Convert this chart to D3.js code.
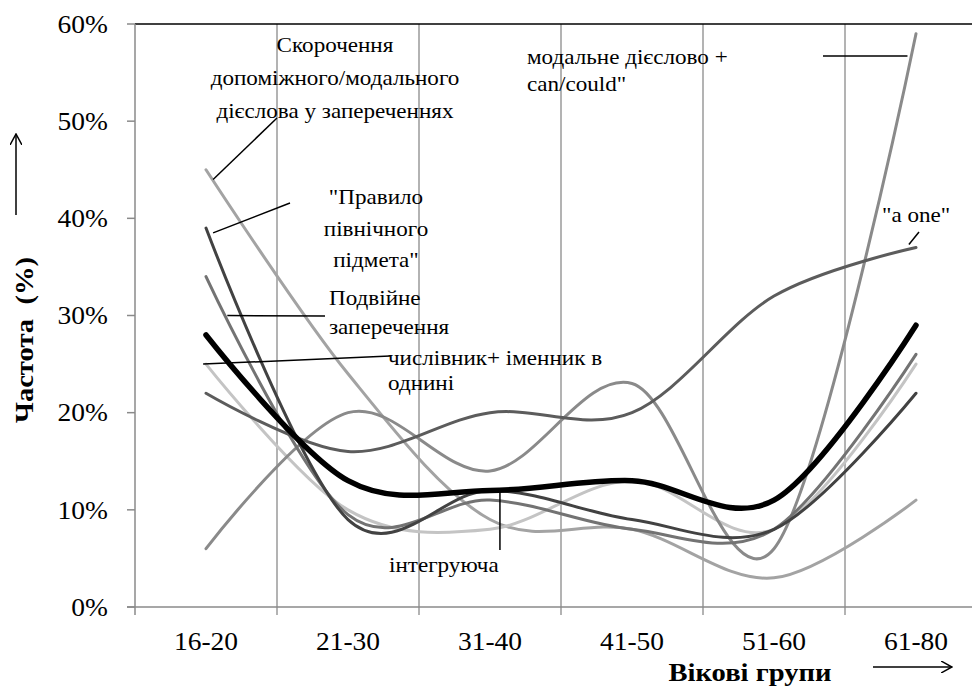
<!DOCTYPE html>
<html>
<head>
<meta charset="utf-8">
<title>Частота за віковими групами</title>
<script src="https://cdn.jsdelivr.net/npm/d3@7"></script>
<style>
  body { margin: 0; background: #fff; }
  svg text { font-family: "Liberation Serif", "Times New Roman", serif; fill: #000; }
  .tick-label { font-size: 25px; }
  .note { font-size: 21px; }
  .axis-title { font-size: 26px; font-weight: bold; white-space: pre; }
  .series { fill: none; stroke-linecap: round; }
</style>
</head>
<body>
<svg id="chart"></svg>
<script>
// age groups on the x axis
var categories = ["16-20", "21-30", "31-40", "41-50", "51-60", "61-80"];
var yTicks = [0, 10, 20, 30, 40, 50, 60];

// frequencies, % per age group
var skorochennia = [45, 24, 9, 8, 3, 11];
var pravylo = [39, 9, 12, 9, 8, 22];
var podviyne = [34, 9.5, 11, 8, 8, 26];
var chyslivnyk = [25, 10, 8, 13, 8, 25];
var aOne = [22, 16, 20, 20, 32, 37];
var modalne = [6, 20, 14, 23, 6, 59];
var intehruiucha = [28, 13, 12, 13, 11, 29];

var series = [
  { values: skorochennia, color: "#a3a3a3", width: 3 },
  { values: chyslivnyk, color: "#c4c4c4", width: 3 },
  { values: modalne, color: "#8a8a8a", width: 3 },
  { values: podviyne, color: "#737373", width: 3 },
  { values: aOne, color: "#5c5c5c", width: 3 },
  { values: pravylo, color: "#424242", width: 3 },
  { values: intehruiucha, color: "#000", width: 5.5 }
];

var width = 972, height = 689;
var margin = { left: 135, top: 24, right: -15, bottom: 82 };
var stretchX = 1.1;   // the original lettering is a bit wider than Times

var svg = d3.select("#chart")
  .attr("width", width)
  .attr("height", height);

var x = d3.scaleBand()
  .domain(categories)
  .range([margin.left, width - margin.right]);

var y = d3.scaleLinear()
  .domain([0, 60])
  .range([height - margin.bottom, margin.top]);

// position along the category axis, fractional index allowed
function xAt(i) {
  return x(categories[0]) + x.bandwidth() * (i + 0.5);
}

// widen text horizontally
function stretch(sel) {
  sel.each(function() {
    var w = this.getComputedTextLength();
    d3.select(this)
      .attr("textLength", w * stretchX)
      .attr("lengthAdjust", "spacingAndGlyphs");
  });
}

// vertical grid lines on band borders
svg.append("g")
  .selectAll("line")
  .data(categories.slice(1))
  .enter().append("line")
    .attr("x1", function(d) { return x(d); })
    .attr("x2", function(d) { return x(d); })
    .attr("y1", y(60))
    .attr("y2", y(0) + 8)
    .attr("stroke", "#9a9a9a")
    .attr("stroke-width", 1.5);

// top border of the plot
svg.append("line")
  .attr("x1", margin.left).attr("x2", width)
  .attr("y1", y(60)).attr("y2", y(60))
  .attr("stroke", "#000").attr("stroke-width", 1.5);

// y axis
var yAxis = svg.append("g");
yAxis.append("line")
  .attr("x1", margin.left).attr("x2", margin.left)
  .attr("y1", y(60)).attr("y2", y(0) + 8)
  .attr("stroke", "#8a8a8a").attr("stroke-width", 1.5);
yAxis.selectAll(".yt")
  .data(yTicks)
  .enter().append("line")
    .attr("x1", margin.left - 8).attr("x2", margin.left)
    .attr("y1", function(d) { return y(d); })
    .attr("y2", function(d) { return y(d); })
    .attr("stroke", "#8a8a8a").attr("stroke-width", 1.5);
yAxis.selectAll("text")
  .data(yTicks)
  .enter().append("text")
    .attr("class", "tick-label")
    .attr("x", 108)
    .attr("y", function(d) { return y(d); })
    .attr("dy", "0.35em")
    .attr("text-anchor", "end")
    .text(function(d) { return d + "%"; })
    .call(stretch);

// x axis
var xAxis = svg.append("g");
xAxis.append("line")
  .attr("x1", margin.left - 8).attr("x2", width)
  .attr("y1", y(0)).attr("y2", y(0))
  .attr("stroke", "#8a8a8a").attr("stroke-width", 1.5);
xAxis.selectAll("text")
  .data(categories)
  .enter().append("text")
    .attr("class", "tick-label")
    .attr("x", function(d) { return x(d) + x.bandwidth() / 2; })
    .attr("y", y(0) + 43)
    .attr("text-anchor", "middle")
    .text(function(d) { return d; })
    .call(stretch);

// smoothed lines
var line = d3.line()
  .x(function(d, i) { return xAt(i); })
  .y(function(d) { return y(d); })
  .curve(d3.curveCardinal.tension(0));

svg.append("g")
  .selectAll("path")
  .data(series)
  .enter().append("path")
    .attr("class", "series")
    .attr("d", function(d) { return line(d.values); })
    .attr("stroke", function(d) { return d.color; })
    .attr("stroke-width", function(d) { return d.width; });

// annotations: text lines, text anchor, line step, leader [from, to]
var notes = [
  { lines: ["Скорочення", "допоміжного/модального", "дієслова у запереченнях"],
    x: 335, y: 52, step: 33, anchor: "middle", lead: [[xAt(0.05), y(44)], [277, 118]] },
  { lines: ["\"Правило", "північного", "підмета\""],
    x: 376, y: 204, step: 31.5, anchor: "middle", lead: [[xAt(0.05), y(38.5)], [290, 203]] },
  { lines: ["Подвійне", "заперечення"],
    x: 329, y: 305, step: 29, anchor: "start", lead: [[xAt(0.15), y(30)], [325, 316]] },
  { lines: ["числівник+ іменник в", "однині"],
    x: 388, y: 365, step: 25, anchor: "start", lead: [[xAt(-0.02), y(25)], [390, 356]] },
  { lines: ["інтегруюча"],
    x: 389, y: 572, step: 0, anchor: "start", lead: [[xAt(2.07), y(12.1)], [xAt(2.07), 550]] },
  { lines: ["модальне дієслово +", "can/could\""],
    x: 527, y: 64, step: 27, anchor: "start", lead: [[823, 56], [xAt(4.94), 56]] },
  { lines: ["\"a one\""],
    x: 882, y: 222, step: 0, anchor: "start", lead: [[xAt(4.95), y(37.3)], [919, 232]] }
];

var noteG = svg.append("g");
notes.forEach(function(n) {
  noteG.append("line")
    .attr("x1", n.lead[0][0]).attr("y1", n.lead[0][1])
    .attr("x2", n.lead[1][0]).attr("y2", n.lead[1][1])
    .attr("stroke", "#000").attr("stroke-width", 1.5);
  n.lines.forEach(function(s, i) {
    noteG.append("text")
      .attr("class", "note")
      .attr("text-anchor", n.anchor)
      .attr("x", n.x)
      .attr("y", n.y + i * n.step)
      .text(s)
      .call(stretch);
  });
});

// axis titles with arrows
svg.append("defs").append("marker")
  .attr("id", "arrow")
  .attr("viewBox", "0 0 12 12")
  .attr("refX", 11).attr("refY", 6)
  .attr("markerWidth", 12).attr("markerHeight", 12)
  .attr("markerUnits", "userSpaceOnUse")
  .attr("orient", "auto")
  .append("path")
    .attr("d", "M0,0 L11,6 L0,12")
    .attr("fill", "none")
    .attr("stroke", "#000")
    .attr("stroke-width", 1.5);

svg.append("text")
  .attr("class", "axis-title")
  .attr("transform", "translate(33,340) rotate(-90)")
  .attr("text-anchor", "middle")
  .text("Частота  (%)")
  .call(stretch);

svg.append("line")
  .attr("x1", 16).attr("x2", 16)
  .attr("y1", 215).attr("y2", 134)
  .attr("stroke", "#000").attr("stroke-width", 1.5)
  .attr("marker-end", "url(#arrow)");

svg.append("text")
  .attr("class", "axis-title")
  .attr("x", 750).attr("y", 681)
  .attr("text-anchor", "middle")
  .text("Вікові групи")
  .call(stretch);

svg.append("line")
  .attr("x1", 873).attr("x2", 952)
  .attr("y1", 667).attr("y2", 667)
  .attr("stroke", "#000").attr("stroke-width", 1.5)
  .attr("marker-end", "url(#arrow)");
</script>
</body>
</html>
